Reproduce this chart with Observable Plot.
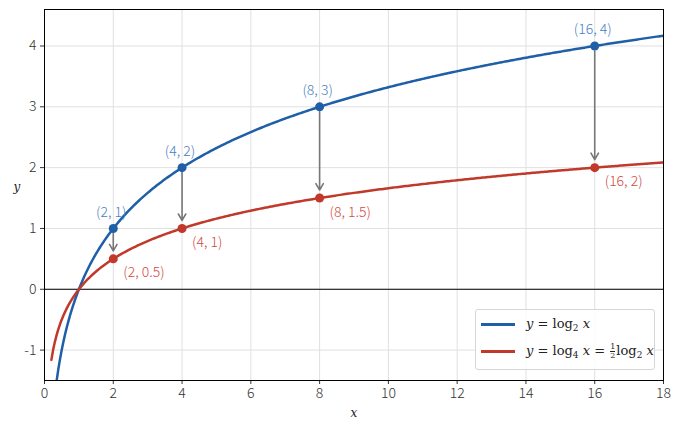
<!DOCTYPE html>
<html><head><meta charset="utf-8">
<script src="https://cdn.jsdelivr.net/npm/d3@7"></script>
<script src="https://cdn.jsdelivr.net/npm/@observablehq/plot@0.6"></script>
<style>
body{margin:0;background:#fff;}
#wrap{position:relative;width:681px;height:430px;}
#wrap svg text{font-weight:300;}
#legend{position:absolute;left:475px;top:309px;width:180px;height:61px;border:1px solid #d6d6d6;border-radius:3px;background:rgba(255,255,255,0.85);box-sizing:border-box;font-family:"DejaVu Serif","Liberation Serif",serif;font-size:13px;color:#222;}
.row{position:absolute;left:5px;display:flex;align-items:center;}
.sw{width:34px;height:3px;margin-right:11px;}
i{font-style:italic;}
sub{font-size:9px;vertical-align:-3px;}
.frac{display:inline-flex;flex-direction:column;align-items:center;font-size:8px;line-height:8px;vertical-align:middle;margin:0 1px;}
.frac span:first-child{border-bottom:0.8px solid #222;}
</style></head>
<body><div id="wrap"></div>
<script>
const pointXs = [2, 4, 8, 16];
const blueColor = "#1f5fa8";
const redColor = "#c0392b";
const blueLabels = ["(2, 1)", "(4, 2)", "(8, 3)", "(16, 4)"];
const redLabels = ["(2, 0.5)", "(4, 1)", "(8, 1.5)", "(16, 2)"];
const xTicks = [0, 2, 4, 6, 8, 10, 12, 14, 16, 18];
const yTicks = [-1, 0, 1, 2, 3, 4];

const curveX = d3.range(0.2, 18.001, 0.05);
const blueCurve = curveX.map(x => ({x, y: Math.log2(x)}));
const redCurve = curveX.map(x => ({x, y: Math.log2(x) / 2}));
const bluePts = pointXs.map((x, i) => ({x, y: Math.log2(x), label: blueLabels[i]}));
const redPts = pointXs.map((x, i) => ({x, y: Math.log2(x) / 2, label: redLabels[i]}));
const arrows = pointXs.map(x => ({x, y1: Math.log2(x), y2: Math.log2(x) / 2}));

const font = '"Noto Sans CJK JP","DejaVu Sans",sans-serif';
const fmt = d => String(d);

const chart = Plot.plot({
  width: 681, height: 430,
  marginLeft: 44, marginRight: 18, marginTop: 9, marginBottom: 50,
  style: {fontFamily: font, fontSize: "14px", color: "#333", background: "white"},
  x: {domain: [0, 18], ticks: xTicks, tickSize: 4, label: null, tickFormat: fmt},
  y: {domain: [-1.5, 4.6], ticks: yTicks, tickSize: 4, label: null, tickFormat: fmt},
  marks: [
    Plot.gridX(xTicks, {stroke: "#e0e0e0", strokeOpacity: 1}),
    Plot.gridY(yTicks, {stroke: "#e0e0e0", strokeOpacity: 1}),
    Plot.ruleY([0], {stroke: "black", strokeWidth: 1}),
    Plot.line(blueCurve, {x: "x", y: "y", stroke: blueColor, strokeWidth: 2.5, clip: true}),
    Plot.line(redCurve, {x: "x", y: "y", stroke: redColor, strokeWidth: 2.5, clip: true}),
    Plot.arrow(arrows, {x: "x", y1: "y1", y2: "y2", stroke: "#777", strokeWidth: 1.6, headLength: 7, insetStart: 5, insetEnd: 8, bend: 0}),
    Plot.dot(bluePts, {x: "x", y: "y", r: 4.5, fill: blueColor}),
    Plot.dot(redPts, {x: "x", y: "y", r: 4.5, fill: redColor}),
    Plot.text(bluePts, {x: "x", y: "y", text: "label", dy: -16, dx: -2, fill: "#4a80c2", fontSize: 14}),
    Plot.text(redPts, {x: "x", y: "y", text: "label", dy: 14, dx: 10, textAnchor: "start", fill: "#d24a3f", fontSize: 14}),
    Plot.axisX(xTicks, {tickSize: 4, tickPadding: 4, fontSize: 14, tickFormat: fmt}),
    Plot.axisY(yTicks, {tickSize: 4, tickPadding: 4, fontSize: 14, tickFormat: fmt}),
    Plot.frame({stroke: "black", strokeWidth: 1}),
    Plot.text(["x"], {frameAnchor: "bottom", dy: 36, fontStyle: "italic", fontFamily: '"DejaVu Serif",serif', fontSize: 12, fill: "#222"}),
    Plot.text(["y"], {frameAnchor: "left", dx: -31, dy: -8, fontStyle: "italic", fontFamily: '"DejaVu Serif",serif', fontSize: 12, fill: "#222"})
  ]
});
const wrap = document.getElementById("wrap");
wrap.appendChild(chart);
const legend = document.createElement("div");
legend.id = "legend";
legend.innerHTML = `
<div class="row" style="top:6px"><div class="sw" style="background:${blueColor}"></div><span><i>y</i> = log<sub>2</sub> <i>x</i></span></div>
<div class="row" style="top:33px"><div class="sw" style="background:${redColor}"></div><span><i>y</i> = log<sub>4</sub> <i>x</i> = <span class="frac"><span>1</span><span>2</span></span>log<sub>2</sub> <i>x</i></span></div>`;
wrap.appendChild(legend);
</script></body></html>
